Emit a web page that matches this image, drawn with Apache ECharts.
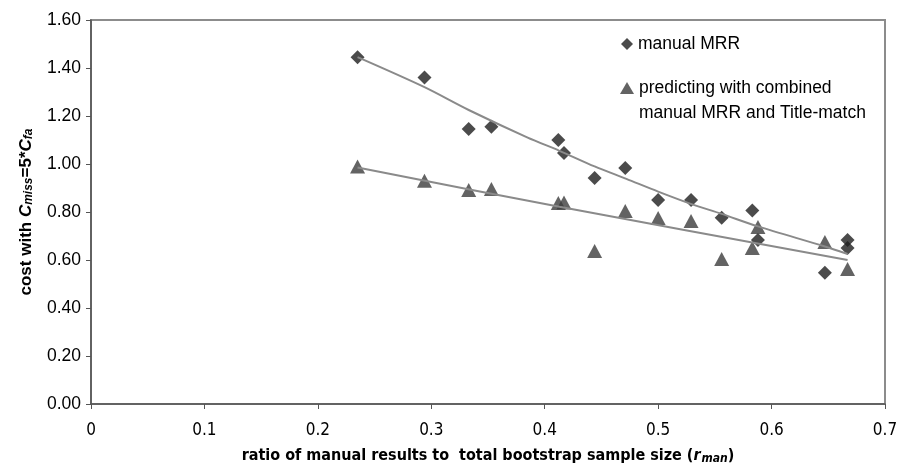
<!DOCTYPE html>
<html>
<head>
<meta charset="utf-8">
<script src="https://cdn.jsdelivr.net/npm/echarts@6/dist/echarts.min.js"></script>
<style>html,body{margin:0;padding:0;background:#fff;}#c{width:899px;height:468px;}</style>
</head>
<body>
<div id="c"></div>
<script>
// ---- data ----
const mrrX = [0.235, 0.294, 0.333, 0.353, 0.412, 0.417, 0.444, 0.471, 0.500, 0.529, 0.556, 0.583, 0.588, 0.647, 0.667, 0.667];
const mrrY = [1.445, 1.360, 1.146, 1.155, 1.100, 1.046, 0.942, 0.983, 0.850, 0.850, 0.776, 0.806, 0.683, 0.547, 0.683, 0.650];
const comboX = [0.235, 0.294, 0.333, 0.353, 0.412, 0.417, 0.444, 0.471, 0.500, 0.529, 0.556, 0.583, 0.588, 0.647, 0.667];
const comboY = [0.990, 0.930, 0.892, 0.896, 0.837, 0.840, 0.638, 0.804, 0.775, 0.762, 0.604, 0.650, 0.737, 0.675, 0.562];
// trend lines
const mrrTrendX = [0.235, 0.294, 0.333, 0.385, 0.413, 0.444, 0.472, 0.500, 0.530, 0.556, 0.588, 0.647, 0.667];
const mrrTrendY = [1.445, 1.320, 1.225, 1.110, 1.055, 0.990, 0.938, 0.885, 0.832, 0.792, 0.740, 0.656, 0.625];
const comboTrendX = [0.235, 0.413, 0.667];
const comboTrendY = [0.985, 0.822, 0.600];
const xTicks = [0, 0.1, 0.2, 0.3, 0.4, 0.5, 0.6, 0.7];
const yTicks = [0, 0.2, 0.4, 0.6, 0.8, 1.0, 1.2, 1.4, 1.6];
const name1 = 'manual MRR';
const name2 = 'predicting with combined\nmanual MRR and Title-match';

const zip = (xs, ys) => xs.map((x, i) => [x, ys[i]]);
const FONT = '"Liberation Sans", Arial, sans-serif';
const NARROW = '"DejaVu Sans Condensed", "Liberation Sans Narrow", "Arial Narrow", sans-serif';

const chart = echarts.init(document.getElementById('c'), null, {renderer: 'canvas'});
chart.setOption({
  animation: false,
  backgroundColor: '#fff',
  grid: {left: 91, top: 20, width: 794, height: 384, containLabel: false, outerBoundsMode: 'none',
         show: true, borderColor: '#8c8c8c', borderWidth: 2, backgroundColor: 'transparent'},
  legend: [
    {left: 621, top: 32, padding: 0, itemWidth: 12, itemHeight: 12, itemGap: 5,
     data: [{name: name1, icon: 'diamond'}],
     textStyle: {fontFamily: FONT, fontSize: 17.5, color: '#000', lineHeight: 24}},
    {left: 620, top: 50.5, padding: 0, itemWidth: 14, itemHeight: 12, itemGap: 5,
     data: [{name: name2, icon: 'triangle'}],
     formatter: n => ' \n' + n,
     textStyle: {fontFamily: FONT, fontSize: 17.5, color: '#000', lineHeight: 25}}
  ],
  xAxis: {
    type: 'value', min: 0, max: 0.7, interval: 0.1,
    axisLine: {show: true, onZero: false, lineStyle: {color: '#555', width: 1.5}},
    axisTick: {show: true, inside: false, length: 5, lineStyle: {color: '#555'}},
    splitLine: {show: false},
    axisLabel: {margin: 18, color: '#000', fontFamily: NARROW, fontSize: 17,
      formatter: v => { const i = xTicks.findIndex(t => Math.abs(t - v) < 1e-9); return i === 0 ? '0' : xTicks[i].toFixed(1); }},
    name: '{b|ratio of manual results to  total bootstrap sample size (}{i|r}{s|man}{b|)}',
    nameLocation: 'middle', nameGap: 42,
    nameTextStyle: {rich: {
      b: {fontFamily: NARROW, fontWeight: 'bold', fontSize: 16, color: '#000'},
      i: {fontFamily: NARROW, fontWeight: 'bold', fontStyle: 'italic', fontSize: 16, color: '#000'},
      s: {fontFamily: NARROW, fontWeight: 'bold', fontStyle: 'italic', fontSize: 12, color: '#000', padding: [7, 0, 0, 1]}
    }}
  },
  yAxis: {
    type: 'value', min: 0, max: 1.6, interval: 0.2,
    axisLine: {show: true, onZero: false, lineStyle: {color: '#555', width: 1.5}},
    axisTick: {show: true, inside: false, length: 5, lineStyle: {color: '#555'}},
    splitLine: {show: false},
    axisLabel: {margin: 10, color: '#000', fontFamily: FONT, fontSize: 17.5,
      formatter: v => v.toFixed(2)},
    name: '{b|cost with }{i|C}{s|miss}{b|=5*}{i|C}{s|fa}',
    nameLocation: 'middle', nameGap: 56, nameRotate: 90,
    nameTextStyle: {rich: {
      b: {fontFamily: FONT, fontWeight: 'bold', fontSize: 17, color: '#000'},
      i: {fontFamily: FONT, fontWeight: 'bold', fontStyle: 'italic', fontSize: 17, color: '#000'},
      s: {fontFamily: FONT, fontWeight: 'bold', fontStyle: 'italic', fontSize: 12, color: '#000', padding: [6, 0, 0, 0]}
    }}
  },
  series: [
    {name: name1, type: 'scatter', symbol: 'diamond', symbolSize: 14,
     itemStyle: {color: '#1e1e1e'}, data: zip(mrrX, mrrY), z: 2},
    {name: name2, type: 'scatter', symbol: 'triangle', symbolSize: [15, 14],
     itemStyle: {color: '#3c3c3c'}, data: zip(comboX, comboY), z: 2},
    {name: 'mrrTrend', type: 'line', showSymbol: false, symbol: 'none', smooth: 0.3,
     lineStyle: {color: '#8a8a8a', width: 2}, data: zip(mrrTrendX, mrrTrendY), z: 3},
    {name: 'comboTrend', type: 'line', showSymbol: false, symbol: 'none', smooth: 0.3,
     lineStyle: {color: '#8a8a8a', width: 2}, data: zip(comboTrendX, comboTrendY), z: 3}
  ]
});
</script>
</body>
</html>
